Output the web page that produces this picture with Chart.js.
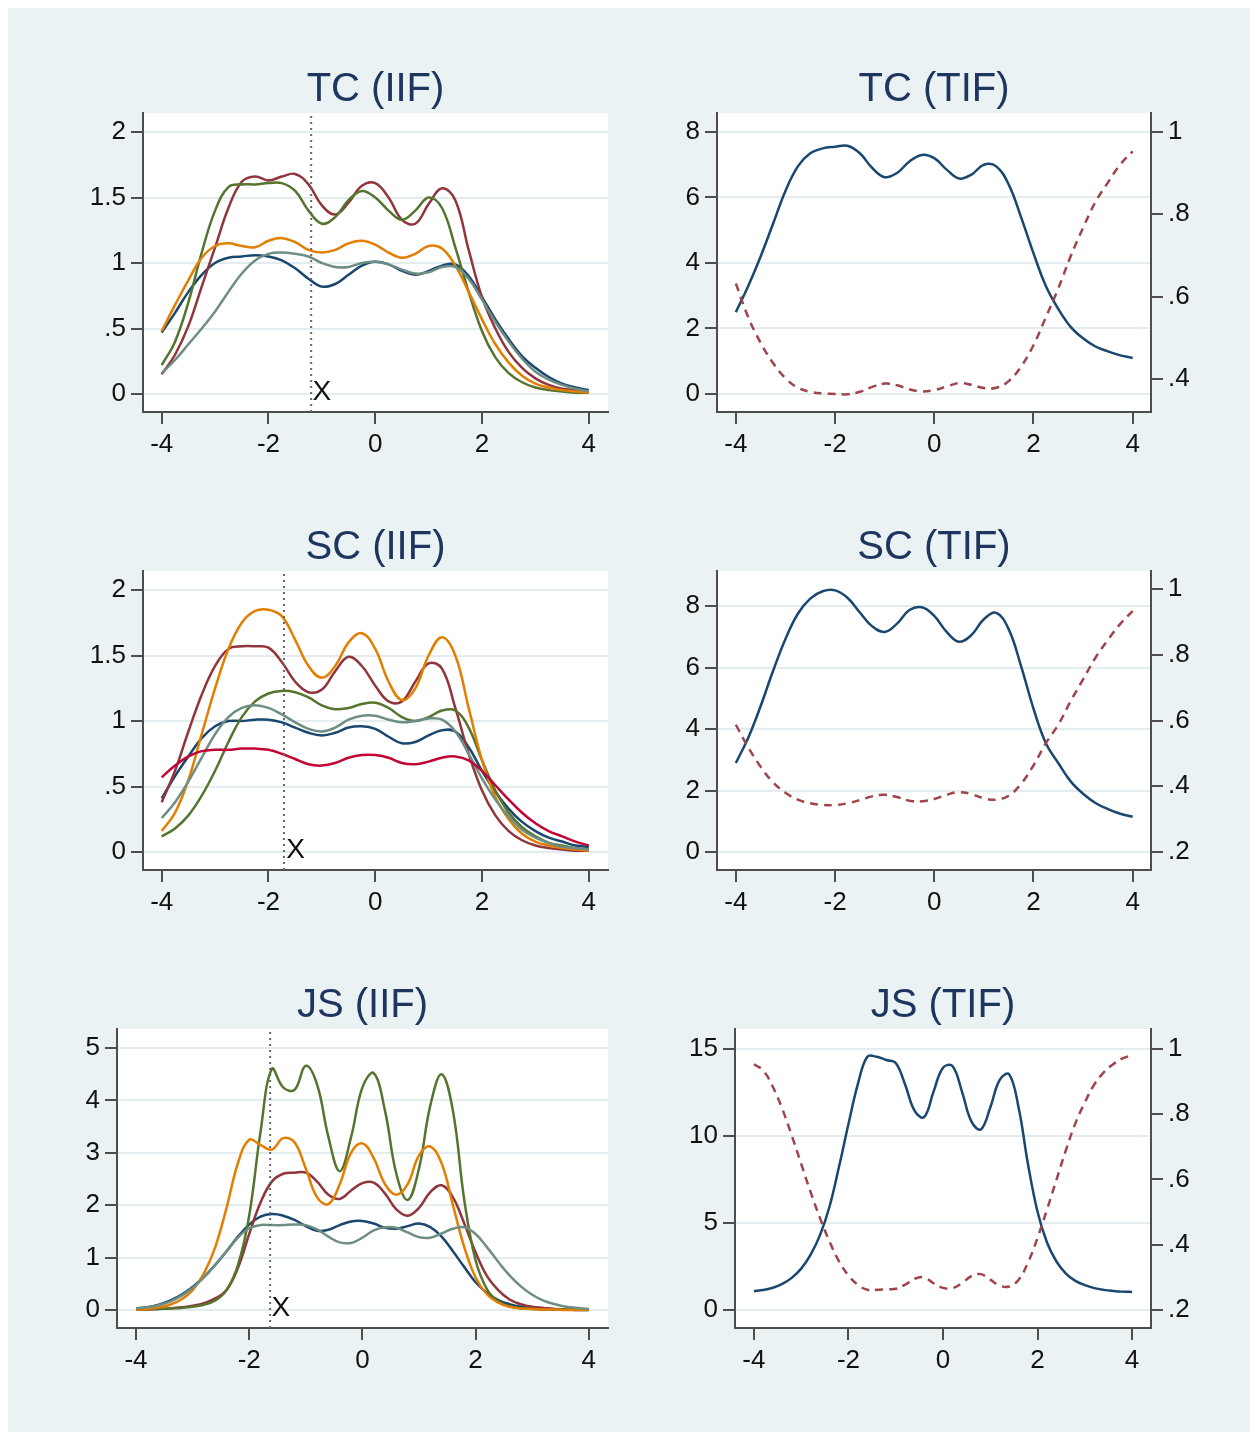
<!DOCTYPE html>
<html>
<head>
<meta charset="utf-8">
<script src="https://cdn.jsdelivr.net/npm/chart.js@4.4.1/dist/chart.umd.min.js"></script>
<style>
  html, body { margin: 0; padding: 0; background: #fff; }
  #bg { position: absolute; left: 8px; top: 8px; width: 1242px; height: 1424px; background: #eaf2f3; }
  canvas { position: absolute; }
</style>
</head>
<body>
<div id="bg"></div>
<script>
// theta grid
const tcX = [-4,-3.75,-3.5,-3.25,-3,-2.75,-2.5,-2.25,-2,-1.75,-1.5,-1.25,-1,-0.75,-0.5,-0.25,0,0.25,0.5,0.75,1,1.25,1.5,1.75,2,2.25,2.5,2.75,3,3.25,3.5,3.75,4];
const scX = tcX;
const jsX = [-4,-3.8,-3.6,-3.4,-3.2,-3,-2.8,-2.6,-2.4,-2.2,-2,-1.8,-1.6,-1.4,-1.2,-1,-0.8,-0.6,-0.4,-0.2,0,0.2,0.4,0.6,0.8,1,1.2,1.4,1.6,1.8,2,2.2,2.4,2.6,2.8,3,3.2,3.4,3.6,3.8,4];

// TC item information
const tcNavy   = [0.47,0.62,0.78,0.91,1.00,1.04,1.05,1.06,1.05,1.02,0.96,0.88,0.82,0.84,0.91,0.98,1.01,0.99,0.94,0.91,0.94,0.98,0.99,0.90,0.74,0.57,0.42,0.29,0.20,0.13,0.08,0.05,0.03];
const tcMaroon = [0.15,0.30,0.52,0.82,1.12,1.42,1.62,1.66,1.63,1.66,1.68,1.60,1.44,1.37,1.46,1.59,1.61,1.50,1.33,1.30,1.45,1.57,1.48,1.10,0.74,0.50,0.32,0.20,0.12,0.07,0.04,0.03,0.02];
const tcGreen  = [0.22,0.40,0.70,1.08,1.40,1.58,1.60,1.60,1.61,1.61,1.55,1.40,1.30,1.35,1.48,1.55,1.50,1.40,1.33,1.40,1.50,1.42,1.12,0.78,0.48,0.28,0.16,0.09,0.05,0.03,0.02,0.01,0.01];
const tcOrange = [0.48,0.68,0.87,1.04,1.13,1.15,1.13,1.12,1.17,1.19,1.16,1.10,1.08,1.10,1.15,1.17,1.14,1.08,1.04,1.07,1.13,1.11,0.98,0.78,0.57,0.38,0.24,0.14,0.08,0.05,0.03,0.02,0.01];
const tcTeal   = [0.16,0.26,0.38,0.50,0.63,0.78,0.92,1.02,1.07,1.08,1.07,1.05,1.00,0.97,0.97,1.00,1.01,0.99,0.95,0.92,0.93,0.97,0.97,0.88,0.72,0.55,0.40,0.27,0.17,0.11,0.07,0.04,0.02];
// TC test information and standard error
const tcInfo = [2.5,3.3,4.2,5.2,6.2,6.95,7.35,7.5,7.55,7.58,7.35,6.9,6.62,6.75,7.1,7.3,7.2,6.85,6.58,6.7,7.0,6.95,6.4,5.4,4.3,3.3,2.6,2.05,1.7,1.45,1.3,1.18,1.1];
const tcSE   = [0.632,0.550,0.488,0.439,0.402,0.379,0.369,0.365,0.364,0.363,0.369,0.381,0.389,0.385,0.375,0.370,0.373,0.382,0.390,0.386,0.378,0.379,0.395,0.430,0.482,0.550,0.620,0.698,0.767,0.830,0.877,0.921,0.953];

// SC item information
const scNavy      = [0.41,0.58,0.73,0.87,0.96,1.00,1.00,1.01,1.01,0.99,0.95,0.91,0.89,0.91,0.95,0.96,0.94,0.88,0.83,0.84,0.89,0.93,0.92,0.80,0.62,0.46,0.33,0.23,0.16,0.11,0.08,0.05,0.04];
const scMaroon    = [0.38,0.62,0.92,1.20,1.42,1.55,1.57,1.57,1.56,1.45,1.30,1.22,1.24,1.38,1.49,1.42,1.27,1.15,1.15,1.30,1.44,1.40,1.10,0.75,0.47,0.28,0.16,0.09,0.05,0.03,0.02,0.01,0.01];
const scGreen     = [0.12,0.18,0.28,0.43,0.62,0.84,1.03,1.15,1.21,1.23,1.22,1.18,1.12,1.09,1.10,1.13,1.14,1.10,1.03,1.00,1.03,1.08,1.08,0.95,0.70,0.47,0.30,0.19,0.12,0.07,0.05,0.03,0.02];
const scOrange    = [0.16,0.30,0.55,0.90,1.25,1.55,1.75,1.84,1.85,1.80,1.62,1.42,1.33,1.42,1.60,1.67,1.55,1.30,1.16,1.25,1.50,1.64,1.50,1.10,0.70,0.42,0.25,0.14,0.08,0.05,0.03,0.02,0.01];
const scTeal      = [0.26,0.38,0.54,0.72,0.90,1.03,1.10,1.12,1.10,1.05,0.99,0.94,0.92,0.95,1.01,1.04,1.04,1.01,0.99,1.00,1.02,1.01,0.92,0.75,0.56,0.40,0.27,0.17,0.11,0.07,0.04,0.03,0.02];
const scCranberry = [0.57,0.66,0.73,0.77,0.78,0.78,0.79,0.79,0.78,0.75,0.71,0.67,0.66,0.68,0.72,0.74,0.74,0.72,0.68,0.67,0.69,0.72,0.73,0.70,0.62,0.51,0.40,0.30,0.22,0.16,0.12,0.08,0.05];
// SC test information and standard error
const scInfo = [2.90,3.72,4.75,5.89,6.93,7.75,8.24,8.48,8.51,8.27,7.79,7.34,7.16,7.43,7.87,7.96,7.68,7.16,6.84,7.06,7.57,7.78,7.25,6.05,4.67,3.54,2.90,2.30,1.90,1.60,1.40,1.25,1.15];
const scSE   = [0.587,0.518,0.459,0.412,0.380,0.359,0.348,0.343,0.343,0.348,0.358,0.369,0.374,0.367,0.356,0.354,0.361,0.374,0.382,0.376,0.363,0.359,0.371,0.407,0.463,0.531,0.587,0.659,0.725,0.791,0.845,0.894,0.933];

// JS item information
const jsNavy   = [0.03,0.05,0.10,0.18,0.29,0.44,0.63,0.86,1.12,1.40,1.63,1.78,1.83,1.80,1.72,1.60,1.51,1.53,1.62,1.69,1.70,1.65,1.57,1.55,1.60,1.65,1.58,1.40,1.12,0.82,0.53,0.33,0.19,0.11,0.06,0.04,0.02,0.01,0.01,0.00,0.00];
const jsMaroon = [0.01,0.01,0.02,0.03,0.05,0.08,0.13,0.22,0.38,0.80,1.45,2.05,2.45,2.60,2.62,2.62,2.45,2.20,2.12,2.28,2.42,2.43,2.22,1.92,1.80,1.95,2.25,2.38,2.15,1.65,1.10,0.65,0.38,0.20,0.11,0.06,0.04,0.02,0.01,0.01,0.01];
const jsGreen  = [0.02,0.02,0.02,0.03,0.04,0.06,0.10,0.18,0.38,0.85,1.80,3.40,4.60,4.25,4.20,4.66,4.30,3.30,2.65,3.30,4.25,4.52,3.80,2.60,2.10,2.70,3.90,4.50,3.80,2.10,0.95,0.40,0.16,0.07,0.03,0.02,0.01,0.01,0.01,0.01,0.01];
const jsOrange = [0.01,0.02,0.05,0.10,0.20,0.38,0.70,1.20,1.95,2.80,3.25,3.15,3.06,3.28,3.20,2.70,2.15,2.02,2.40,3.00,3.18,2.90,2.40,2.20,2.40,2.95,3.12,2.80,2.00,1.20,0.62,0.30,0.14,0.06,0.03,0.02,0.01,0.01,0.00,0.00,0.00];
const jsTeal   = [0.03,0.05,0.09,0.16,0.27,0.42,0.62,0.86,1.12,1.38,1.56,1.62,1.62,1.62,1.63,1.62,1.54,1.40,1.29,1.28,1.38,1.52,1.58,1.57,1.48,1.39,1.38,1.46,1.55,1.58,1.45,1.20,0.92,0.66,0.45,0.29,0.18,0.11,0.06,0.04,0.02];
// JS test information and standard error
const jsInfo = [1.10,1.15,1.28,1.50,1.85,2.38,3.18,4.32,5.95,8.23,10.69,13.00,14.56,14.55,14.37,14.20,12.95,11.45,11.08,12.55,13.93,14.02,12.57,10.84,10.38,11.64,13.23,13.54,11.62,8.35,5.65,3.88,2.79,2.10,1.68,1.43,1.26,1.16,1.10,1.06,1.04];
const jsSE   = [0.953,0.933,0.884,0.816,0.735,0.648,0.561,0.481,0.410,0.349,0.306,0.277,0.262,0.262,0.264,0.265,0.278,0.296,0.300,0.282,0.268,0.267,0.282,0.304,0.310,0.293,0.275,0.272,0.293,0.346,0.421,0.508,0.599,0.690,0.772,0.836,0.891,0.928,0.953,0.971,0.981];

// cut points (dotted line) and X label position [theta, value]
const tcCut = -1.2, tcMark = [-1.0, 0.015];
const scCut = -1.71, scMark = [-1.49, 0.015];
const jsCut = -1.63, jsMark = [-1.44, 0.04];

// tick values
const xTicks = [-4, -2, 0, 2, 4];
const iifTicks = [0, 0.5, 1, 1.5, 2];
const jsIifTicks = [0, 1, 2, 3, 4, 5];
const tifTicks = [0, 2, 4, 6, 8];
const jsTifTicks = [0, 5, 10, 15];
const tcSeTicks = [0.4, 0.6, 0.8, 1];
const seTicks = [0.2, 0.4, 0.6, 0.8, 1];

const NAVY = '#1a476f', MAROON = '#90353b', GREEN = '#55752f', ORANGE = '#e37e00', TEAL = '#6e8e84', CRANBERRY = '#c10534';
const SE_RED = '#a0444b';
const AXIS = '#4d4d4d', GRID = '#e3edf0';
const FONT = "'Liberation Sans', Arial, Helvetica, sans-serif";
const PAD = 100, PAD_T = 70, PAD_B = 60;

const fmt = v => String(v).replace(/^(-?)0\./, '$1.');

const plotBg = {
    id: 'plotBg',
    beforeDraw(chart) {
        const {ctx, chartArea: a} = chart;
        ctx.save();
        ctx.fillStyle = '#fff';
        ctx.fillRect(a.left, a.top, a.width, a.height);
        ctx.restore();
    }
};

const markPlugin = {
    id: 'mark',
    afterDatasetsDraw(chart, args, opts) {
        if (!opts.at) return;
        const {ctx, scales} = chart;
        ctx.save();
        ctx.font = '28px ' + FONT;
        ctx.fillStyle = '#111';
        ctx.textAlign = 'center';
        ctx.textBaseline = 'middle';
        ctx.fillText(opts.text, scales.x.getPixelForValue(opts.at[0]), scales.y.getPixelForValue(opts.at[1]));
        ctx.restore();
    }
};

function line(xs, ys, color, extra = {}) {
    return Object.assign({
        data: xs.map((x, i) => ({x, y: ys[i]})),
        borderColor: color,
        borderWidth: 2.5,
        pointRadius: 0,
        tension: 0.4,
        fill: false
    }, extra);
}

function axis(min, max, ticks, position, extra = {}) {
    return Object.assign({
        type: 'linear',
        position,
        min, max,
        afterBuildTicks: a => { a.ticks = ticks.map(v => ({value: v})); },
        grid: {color: GRID, lineWidth: 2, tickLength: 12, tickWidth: 2, tickColor: AXIS},
        border: {display: true, color: AXIS, width: 2},
        ticks: {color: '#111', font: {family: FONT, size: 26}, padding: 5, autoSkip: false, maxRotation: 0, callback: v => fmt(v)}
    }, extra);
}

function makePanel(cfg) {
    const [l, t, r, b] = cfg.box;
    const canvas = document.createElement('canvas');
    canvas.width = r - l + 2 * PAD;
    canvas.height = b - t + PAD_T + PAD_B;
    canvas.style.left = (l - PAD) + 'px';
    canvas.style.top = (t - PAD_T) + 'px';
    document.body.appendChild(canvas);

    const scales = {
        x: axis(cfg.x[0], cfg.x[1], xTicks, 'bottom', {afterFit: s => { s.height = PAD_B; }}),
        y: axis(cfg.y[0], cfg.y[1], cfg.yTicks, 'left', {afterFit: s => { s.width = PAD; }})
    };
    scales.x.grid = Object.assign({}, scales.x.grid, {drawOnChartArea: false});
    if (cfg.right) {
        scales.y1 = axis(cfg.right[0], cfg.right[1], cfg.rightTicks, 'right', {afterFit: s => { s.width = PAD; }});
        scales.y1.grid = Object.assign({}, scales.y1.grid, {drawOnChartArea: false});
    } else {
        // empty right axis keeps the title centred over the plot
        scales.y1 = {
            type: 'linear', position: 'right', min: 0, max: 1,
            afterFit: s => { s.width = PAD; },
            grid: {display: false}, border: {display: false}, ticks: {display: false}
        };
    }

    const datasets = cfg.series.map((s, i) => Object.assign(s, {order: -i}));
    if (cfg.cut !== undefined) {
        datasets.push(line([cfg.cut, cfg.cut], [cfg.y[0], cfg.y[1]], '#666', {tension: 0, borderWidth: 2, borderDash: [2, 4], order: -99}));
    }

    new Chart(canvas, {
        type: 'line',
        data: {datasets},
        options: {
            responsive: false,
            animation: false,
            devicePixelRatio: 1,
            layout: {padding: 0},
            scales,
            plugins: {
                legend: {display: false},
                tooltip: {enabled: false},
                title: {
                    display: true, text: cfg.title, color: '#1e3560',
                    font: {family: FONT, size: 40, weight: 'normal', lineHeight: 1},
                    padding: {top: 27, bottom: 3}
                },
                mark: cfg.mark ? {text: 'X', at: cfg.mark} : {}
            }
        },
        plugins: [plotBg, markPlugin]
    });
}

makePanel({
    title: 'TC (IIF)', box: [143, 113, 608, 412],
    x: [-4.35, 4.36], y: [-0.137, 2.145], yTicks: iifTicks,
    cut: tcCut, mark: tcMark,
    series: [line(tcX, tcNavy, NAVY), line(tcX, tcMaroon, MAROON), line(tcX, tcGreen, GREEN), line(tcX, tcOrange, ORANGE), line(tcX, tcTeal, TEAL)]
});
makePanel({
    title: 'TC (TIF)', box: [717, 113, 1151, 412],
    x: [-4.38, 4.37], y: [-0.55, 8.58], yTicks: tifTicks,
    right: [0.32, 1.046], rightTicks: tcSeTicks,
    series: [line(tcX, tcInfo, NAVY), line(tcX, tcSE, SE_RED, {yAxisID: 'y1', borderDash: [8, 6]})]
});
makePanel({
    title: 'SC (IIF)', box: [143, 571, 608, 870],
    x: [-4.35, 4.36], y: [-0.137, 2.145], yTicks: iifTicks,
    cut: scCut, mark: scMark,
    series: [line(scX, scNavy, NAVY), line(scX, scMaroon, MAROON), line(scX, scGreen, GREEN), line(scX, scOrange, ORANGE), line(scX, scTeal, TEAL), line(scX, scCranberry, CRANBERRY)]
});
makePanel({
    title: 'SC (TIF)', box: [717, 571, 1151, 870],
    x: [-4.38, 4.37], y: [-0.58, 9.14], yTicks: tifTicks,
    right: [0.145, 1.055], rightTicks: seTicks,
    series: [line(scX, scInfo, NAVY), line(scX, scSE, SE_RED, {yAxisID: 'y1', borderDash: [8, 6]})]
});
makePanel({
    title: 'JS (IIF)', box: [117, 1029, 608, 1328],
    x: [-4.336, 4.34], y: [-0.344, 5.363], yTicks: jsIifTicks,
    cut: jsCut, mark: jsMark,
    series: [line(jsX, jsNavy, NAVY), line(jsX, jsMaroon, MAROON), line(jsX, jsGreen, GREEN), line(jsX, jsOrange, ORANGE), line(jsX, jsTeal, TEAL)]
});
makePanel({
    title: 'JS (TIF)', box: [735, 1029, 1151, 1328],
    x: [-4.40, 4.40], y: [-1.03, 16.15], yTicks: jsTifTicks,
    right: [0.145, 1.061], rightTicks: seTicks,
    series: [line(jsX, jsInfo, NAVY), line(jsX, jsSE, SE_RED, {yAxisID: 'y1', borderDash: [8, 6]})]
});
</script>
</body>
</html>
